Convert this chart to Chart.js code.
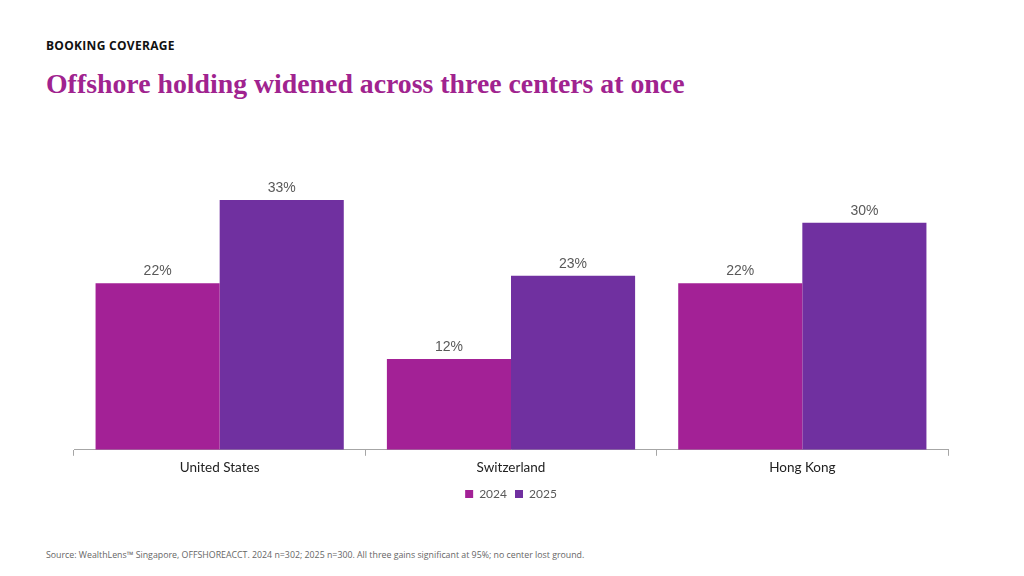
<!DOCTYPE html>
<html>
<head>
<meta charset="utf-8">
<script src="https://cdn.jsdelivr.net/npm/chart.js@4"></script>
<style>
  html, body { margin: 0; padding: 0; background: #fff; }
  body { width: 1024px; height: 576px; position: relative; overflow: hidden; }
  #kicker { position: absolute; left: 46px; top: 37px; font: bold 12px "Open Sans", sans-serif; letter-spacing: 0.3px; color: #111; }
  #title { position: absolute; left: 46px; top: 68px; font: bold 27.8px "Liberation Serif", serif; color: #A0238F; }
  #source { position: absolute; left: 46px; top: 549px; font: 8.8px "Open Sans", sans-serif; color: #666; }
  #chartBox { position: absolute; left: 0; top: 130px; width: 1024px; height: 380px; }
</style>
</head>
<body>
<div id="kicker">BOOKING COVERAGE</div>
<div id="title">Offshore holding widened across three centers at once</div>
<div id="chartBox"><canvas id="chart"></canvas></div>
<div id="source">Source: WealthLens™ Singapore, OFFSHOREACCT. 2024 n=302; 2025 n=300. All three gains significant at 95%; no center lost ground.</div>
<script>
const centers = ["United States", "Switzerland", "Hong Kong"];
const share2024 = [22, 12, 22];
const share2025 = [33, 23, 30];
const seriesNames = ["2024", "2025"];

const valueLabels = {
    id: "valueLabels",
    afterDatasetsDraw(chart) {
        const ctx = chart.ctx;
        ctx.save();
        ctx.font = "14px 'Liberation Sans', Arial, sans-serif";
        ctx.fillStyle = "#595959";
        ctx.textAlign = "center";
        ctx.textBaseline = "bottom";
        chart.data.datasets.forEach((ds, i) => {
            chart.getDatasetMeta(i).data.forEach((bar, j) => {
                ctx.fillText(ds.data[j] + "%", bar.x, bar.y - 5);
            });
        });
        ctx.restore();
    }
};

new Chart(document.getElementById("chart"), {
    type: "bar",
    data: {
        labels: centers,
        datasets: [
            { label: seriesNames[0], data: share2024, backgroundColor: "#A32196" },
            { label: seriesNames[1], data: share2025, backgroundColor: "#7030A0" }
        ]
    },
    options: {
        responsive: true,
        maintainAspectRatio: false,
        animation: false,
        layout: { padding: { top: 17, left: 74, right: 76, bottom: 0 } },
        datasets: { bar: { categoryPercentage: 0.852, barPercentage: 1.0 } },
        plugins: {
            legend: {
                position: "bottom",
                labels: {
                    boxWidth: 8, boxHeight: 8, padding: 8,
                    color: "#595959",
                    font: { family: "Lato, sans-serif", size: 12 }
                }
            },
            tooltip: { enabled: false }
        },
        scales: {
            x: {
                grid: { offset: true, drawOnChartArea: false, tickLength: 6, color: "#a6a6a6" },
                border: { color: "#a6a6a6" },
                ticks: { color: "#222", padding: 4, font: { family: "Lato, sans-serif", size: 13.5 } }
            },
            y: {
                display: false,
                min: 0,
                max: 40
            }
        }
    },
    plugins: [valueLabels]
});
</script>
</body>
</html>
